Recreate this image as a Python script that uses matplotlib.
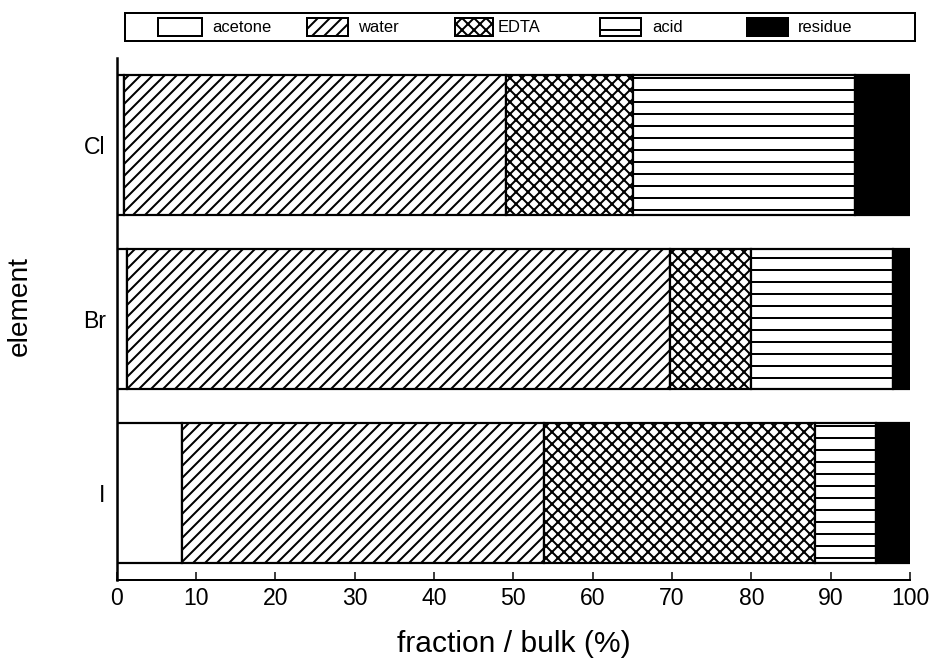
import matplotlib
matplotlib.use('Agg')
import matplotlib.pyplot as plt
from matplotlib.patches import Rectangle
import numpy as np

plt.rcParams['font.family'] = ['Liberation Sans', 'DejaVu Sans']
plt.rcParams['hatch.linewidth'] = 2.0

elements = ['I', 'Br', 'Cl']
fractions = ['acetone', 'water', 'EDTA', 'acid', 'residue']
acetone = [8.2, 1.3, 0.9]
water = [45.7, 68.5, 48.2]
edta = [34.1, 10.2, 16.0]
acid = [7.7, 17.9, 28.0]
residue = [4.3, 2.1, 6.9]

hatches = ['', '//', 'xx', '-', '']
faces = ['white', 'white', 'white', 'white', 'black']

DPI = 72
fig = plt.figure(figsize=(931 / DPI, 663 / DPI), dpi=DPI)
ax = fig.add_axes([116.7 / 931, 83 / 663, (910 - 116.7) / 931, 522 / 663])

ind = np.arange(len(elements))
left = np.zeros(len(elements))
for vals, h, fc in zip([acetone, water, edta, acid, residue], hatches, faces):
    ax.barh(ind, vals, height=0.8, left=left, color=fc, edgecolor='black',
            linewidth=2.2, hatch=h)
    left = left + np.array(vals)

ax.set_xlim(0, 100)
ax.set_ylim(-0.5, 2.5)
ax.set_xticks(range(0, 101, 10))
ax.set_yticks(ind)
ax.set_yticklabels(elements)
ax.tick_params(axis='x', direction='in', length=8, width=1.5, labelsize=23, pad=7)
ax.tick_params(axis='y', length=0, labelsize=23, pad=11)
ax.spines['top'].set_visible(False)
ax.spines['right'].set_visible(False)
ax.spines['left'].set_linewidth(2.5)
ax.spines['bottom'].set_linewidth(2)

ax.set_xlabel('fraction / bulk (%)', fontsize=30)
ax.set_ylabel('element', fontsize=28)
ax.xaxis.set_label_coords(0.5, -0.095)
ax.yaxis.set_label_coords(-0.106, 0.525)

# hand-placed legend box across the top
W, H = 931.0, 663.0
fig.add_artist(Rectangle((125 / W, 1 - 40.7 / H), 790 / W, 28 / H,
                         transform=fig.transFigure, facecolor='white',
                         edgecolor='black', linewidth=2))
handle_x = [158, 307, 455, 600, 747]
handle_w = [44, 41, 38, 41, 41]
text_x = [212, 358, 498, 652, 798]
for name, h, fc, hx, hw, tx in zip(fractions, hatches, faces, handle_x, handle_w, text_x):
    fig.add_artist(Rectangle((hx / W, 1 - 36 / H), hw / W, 18 / H,
                             transform=fig.transFigure, facecolor=fc,
                             edgecolor='black', linewidth=2, hatch=h))
    fig.text(tx / W, 1 - 27.5 / H, name, fontsize=16.5, ha='left', va='center')

fig.savefig('out.png', dpi=DPI)
